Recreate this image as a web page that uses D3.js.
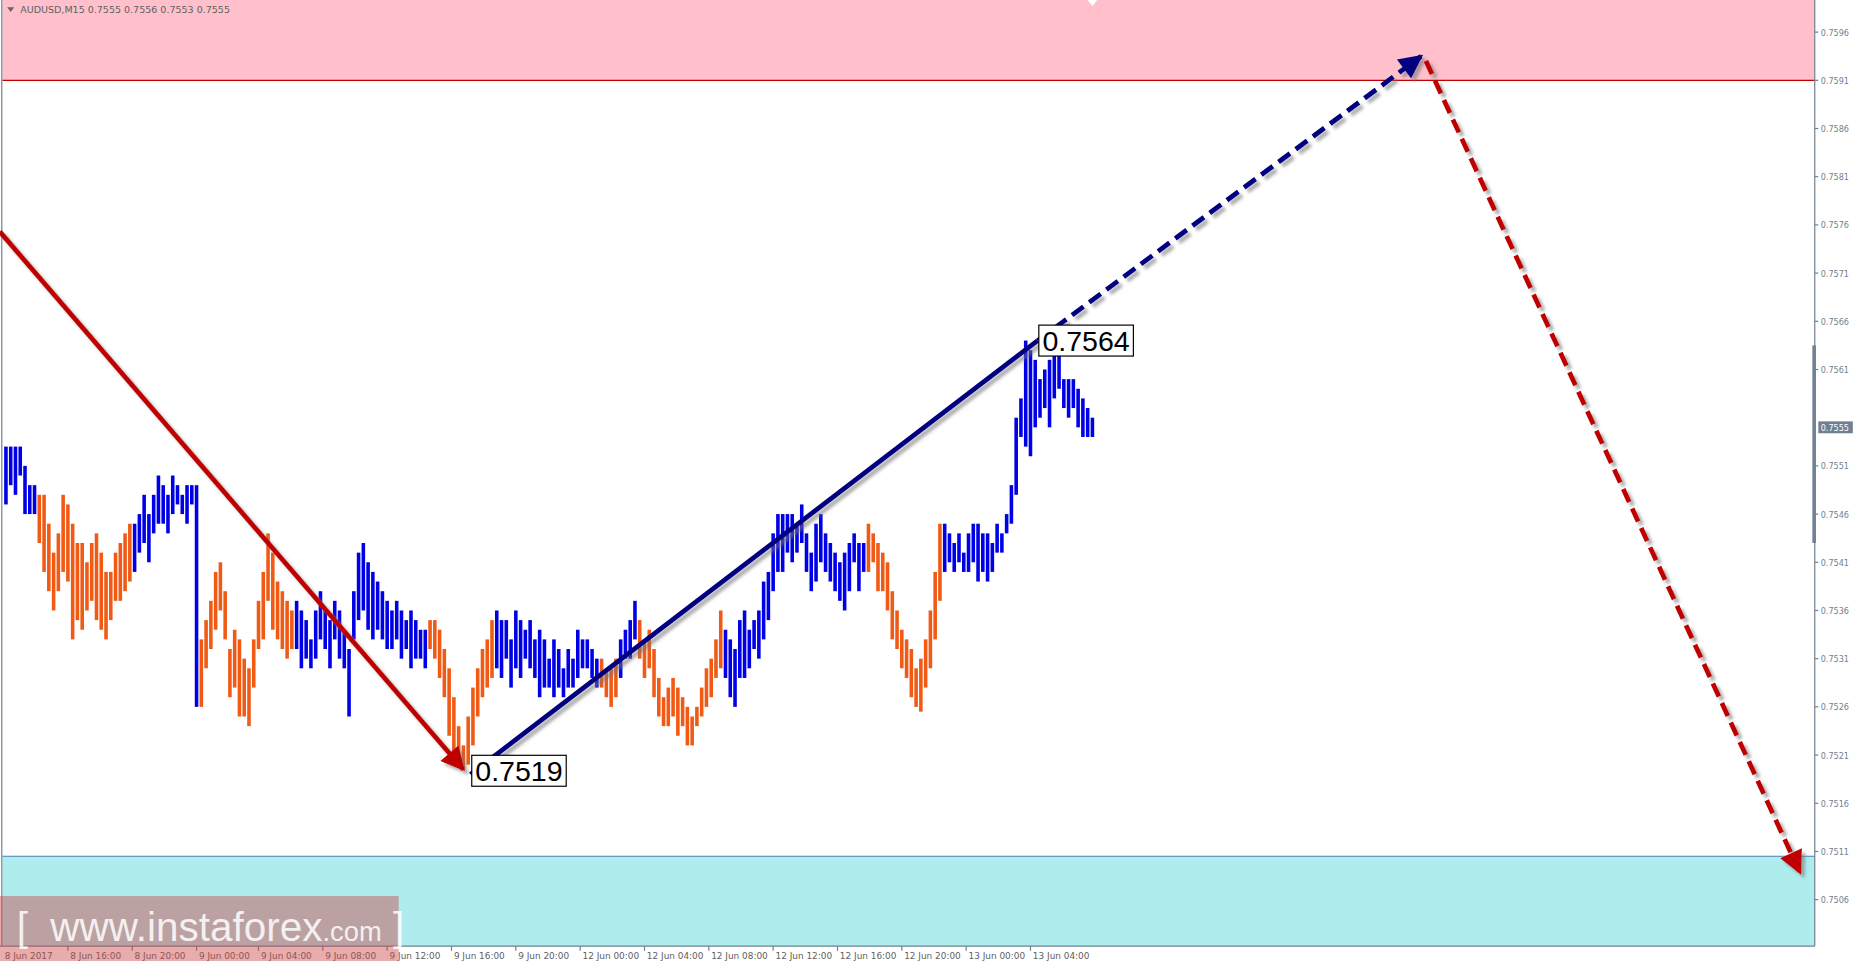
<!DOCTYPE html>
<html><head><meta charset="utf-8">
<script src="https://cdnjs.cloudflare.com/ajax/libs/d3/7.8.5/d3.min.js"></script>
<style>body{margin:0;background:#fff;overflow:hidden}svg{display:block}</style>
</head><body><svg id="c" width="1857" height="961"></svg>
<script>
const title = "AUDUSD,M15  0.7555 0.7556 0.7553 0.7555";
const base = 0.75;
// bars: [high pips, low pips] above 0.7500, colour code
const segments = [
 ["b",[[53,47],[53,49],[53,48],[53,50],[51,46],[49,46],[49,46]]],
 ["o",[[48,43],[48,40],[45,38],[42,36],[44,38],[48,40],[47,39],[45,33],[43,35],[43,34],[41,36],[43,37],[44,35],[42,34],[40,33],[40,35],[42,37],[43,37],[44,38],[45,39]]],
 ["b",[[45,40],[46,42],[48,43],[46,41],[48,44],[50,45],[49,45],[48,44],[50,46],[49,47],[48,46],[49,45],[49,47],[49,26]]],
 ["o",[[33,26],[35,30],[37,32],[40,34],[41,36],[38,33],[32,27],[34,28],[33,25],[31,25],[30,24],[33,28],[37,32],[40,33],[44,37],[42,34],[39,33],[38,32],[37,31],[36,32]]],
 ["b",[[37,32],[36,30],[35,31],[33,30],[36,31],[38,33],[36,32],[35,30],[37,33],[36,31],[34,30],[32,25],[38,33],[42,35],[43,36],[41,34],[40,33],[39,34],[38,33],[37,32],[36,32],[37,33],[36,31],[35,32],[36,30],[35,31],[34,31],[34,30]]],
 ["o",[[35,32],[35,31],[34,29],[32,27],[30,23],[27,21],[24,20],[22,19.5],[25,20],[28,22],[30,25],[32,27],[33,28],[35,29]]],
 ["b",[[36,30],[35,29],[35,31],[33,28],[36,30],[35,29],[34,31],[35,30],[33,29],[34,27],[33,28],[31,28],[33,27],[32,28],[30,27],[32,28],[31,28],[34,29],[33,30],[33,30],[32,29],[31,28]]],
 ["o",[[31,28],[30,27],[30,26],[31,27]]],
 ["b",[[33,29],[34,31],[35,31],[37,33]]],
 ["o",[[35,31],[33,29],[34,30],[32,27],[29,25],[27,24],[28,24],[29,25],[28,23],[27,24],[26,22],[25,22],[26,24],[28,25],[30,26],[31,27],[33,29],[36,30]]],
 ["b",[[34,29],[33,27],[32,26],[35,29],[36,29],[34,30],[35,32],[36,31],[39,33],[40,35],[44,38],[46,40],[46,40],[46,42],[46,41],[45,42],[47,43],[44,40],[42,38],[45,39],[46,41],[44,40],[43,39],[42,38],[41,37],[42,36],[43,38],[44,41],[43,38],[43,40]]],
 ["o",[[45,40],[44,41],[43,38],[42,38],[41,36],[38,33],[36,32],[34,30],[33,29],[32,27],[30,26],[31,25.5],[33,28],[36,30],[40,33],[45,37]]],
 ["b",[[45,40],[44,41],[43,40],[44,41],[42,40],[44,40],[45,41],[45,39],[44,40],[44,39],[43,40],[45,42],[44,42],[46,44],[49,45],[56,48],[58,54],[64,53],[63,52],[62,55],[60,56],[61,57],[62,55],[64,58],[63,59],[60,57],[60,56],[60,57],[59,55],[58,54],[57,54],[56,54]]]
];
const priceTicks = [0.7596,0.7591,0.7586,0.7581,0.7576,0.7571,0.7566,0.7561,0.7551,0.7546,0.7541,0.7536,0.7531,0.7526,0.7521,0.7516,0.7511,0.7506];
const timeLabels = ["8 Jun 2017","8 Jun 16:00","8 Jun 20:00","9 Jun 00:00","9 Jun 04:00","9 Jun 08:00","9 Jun 12:00","9 Jun 16:00","9 Jun 20:00","12 Jun 00:00","12 Jun 04:00","12 Jun 08:00","12 Jun 12:00","12 Jun 16:00","12 Jun 20:00","13 Jun 00:00","13 Jun 04:00"];
const timeIdx = [-1,13,26.5,40,53,66.5,80,93.5,107,120.5,134,147.5,161,174.5,188,201.5,215];
const resistance = 0.7591, support = 0.75105, lastPrice = 0.7555;
const redWave = [[-1.3,0.75753],[96,0.75195]];
const blueWave = [[97.5,0.7519],[216.5,0.7564]];
const blueFuture = [[216.5,0.7564],[297,0.75935]];
const redFuture = [[298,0.7593],[376.5,0.75088]];

const bars=[]; segments.forEach(([c,arr])=>arr.forEach(([h,l])=>bars.push({c,h:base+h/10000,l:base+l/10000})));
const N=bars.length;
const root=d3.select("#c");
const svg=root.append("g").attr("transform","scale(1.19)");
const x=d3.scaleLinear().domain([0,N-1]).range([5,918]);
const y=d3.scaleLinear().domain([0.7596,0.7506]).range([27,756]);
const R=1525, B=795;
const defs=root.append("defs");
const f=defs.append("filter").attr("id","sh").attr("x","-20%").attr("y","-20%").attr("width","140%").attr("height","140%");
f.append("feDropShadow").attr("dx",3).attr("dy",3).attr("stdDeviation",1.5).attr("flood-color","#777").attr("flood-opacity",0.6);
[["ar","#c00000"],["ab","#000080"]].forEach(([id,col])=>{
 defs.append("marker").attr("id",id).attr("viewBox","0 0 10 10").attr("refX",9).attr("refY",5).attr("markerWidth",6).attr("markerHeight",5).attr("orient","auto").attr("markerUnits","strokeWidth")
 .append("path").attr("d","M0,0L10,5L0,10z").attr("fill",col);
});
svg.append("rect").attr("x",2).attr("y",0).attr("width",R-2).attr("height",y(resistance)).attr("fill","#ffc0cb");
svg.append("line").attr("x1",2).attr("x2",R).attr("y1",y(resistance)).attr("y2",y(resistance)).attr("stroke","#c00000").attr("stroke-width",1);
svg.append("rect").attr("x",2).attr("y",y(support)).attr("width",R-2).attr("height",B-y(support)).attr("fill","#afecee");
svg.append("line").attr("x1",2).attr("x2",R).attr("y1",y(support)).attr("y2",y(support)).attr("stroke","#4682b4");
svg.append("line").attr("x1",1.5).attr("x2",1.5).attr("y1",0).attr("y2",B).attr("stroke","#708090");
svg.append("line").attr("x1",R).attr("x2",R).attr("y1",0).attr("y2",B).attr("stroke","#708090");
svg.append("line").attr("x1",0).attr("x2",R).attr("y1",B).attr("y2",B).attr("stroke","#708090");
svg.append("path").attr("d",`M914,0L922,0L918,5z`).attr("fill","#fff");
svg.append("g").selectAll("rect").data(bars).join("rect")
 .attr("x",(d,i)=>x(i)-1.5).attr("width",3).attr("y",d=>y(d.h)).attr("height",d=>Math.max(1,y(d.l)-y(d.h)))
 .attr("fill",d=>d.c==="b"?"#0000e6":"#f05a14");
const ln=d3.line().x(d=>x(d[0])).y(d=>y(d[1]));
function wave(pts,col,dash,m){svg.append("path").attr("d",ln(pts)).attr("stroke",col).attr("stroke-width",4).attr("fill","none")
 .attr("stroke-dasharray",dash?"12,6":null).attr("filter","url(#sh)").attr("marker-end",m?`url(#${m})`:null);}
wave(redWave,"#c00000",false,"ar");
wave(blueWave,"#000080",false,null);
wave(blueFuture,"#000080",true,"ab");
wave(redFuture,"#c00000",true,"ar");
function box(xx,yy,t){const g=svg.append("g");
 const tx=g.append("text").attr("x",xx+3).attr("y",yy+22).attr("font-family","Liberation Sans, Arial").attr("font-size",24).attr("fill","#000").text(t);
 const bb=tx.node().getBBox(); g.insert("rect","text").attr("x",xx).attr("y",yy).attr("width",bb.width+6).attr("height",26).attr("fill","#fff").attr("stroke","#000");}
box(x(216.5)+1,y(0.7564)-13,"0.7564");
box(x(97.5)+1,y(0.7519)-16,"0.7519");
svg.append("path").attr("d","M6,6L12,6L9,10z").attr("fill","#666");
svg.append("text").attr("x",17).attr("y",11).attr("font-family","DejaVu Sans, Verdana").attr("font-size",8).attr("fill","#606060").text(title);
const ax=svg.append("g");
priceTicks.forEach(p=>{ax.append("line").attr("x1",R).attr("x2",R+3).attr("y1",y(p)).attr("y2",y(p)).attr("stroke","#708090");
 ax.append("text").attr("x",R+5).attr("y",y(p)+3).attr("font-family","DejaVu Sans, Verdana").attr("font-size",6.8).attr("fill","#708090").text(p.toFixed(4));});
ax.append("rect").attr("x",R-2).attr("y",y(0.75635)).attr("width",3).attr("height",y(0.7543)-y(0.75635)).attr("fill","#708090");
ax.append("rect").attr("x",R+3).attr("y",y(lastPrice)-5).attr("width",29).attr("height",10).attr("fill","#708090");
ax.append("text").attr("x",R+5).attr("y",y(lastPrice)+3).attr("font-family","DejaVu Sans, Verdana").attr("font-size",6.8).attr("fill","#fff").text(lastPrice.toFixed(4));
timeLabels.forEach((t,i)=>{const xx=i===0?2:x(timeIdx[i]);
 if(i>0)svg.append("line").attr("x1",xx).attr("x2",xx).attr("y1",B).attr("y2",B+4).attr("stroke","#708090");
 svg.append("text").attr("x",xx+2).attr("y",B+11).attr("font-family","DejaVu Sans, Verdana").attr("font-size",7.5).attr("fill","#606060").text(t);});
svg.append("rect").attr("x",0).attr("y",753).attr("width",335).attr("height",56).attr("fill","rgba(205,70,70,0.45)");
svg.append("text").attr("x",14).attr("y",791).attr("font-family","Liberation Sans, Arial").attr("font-size",34).attr("fill","rgba(255,255,255,0.85)")
 .html('[&#160;&#160;www.instaforex<tspan font-size="23">.com</tspan> ]');
</script></body></html>
